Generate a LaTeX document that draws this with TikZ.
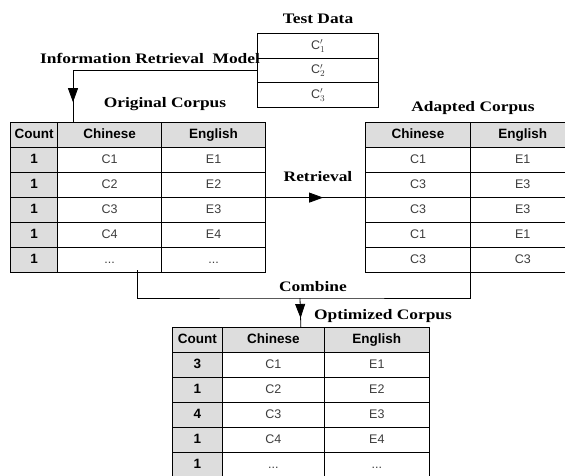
\documentclass[tikz,border=0pt]{standalone}
\usepackage{fontspec}
\setsansfont{Liberation Sans}
\newfontfamily\lblfont[FakeStretch=1.2]{Liberation Serif}
\usetikzlibrary{matrix,arrows.meta,decorations.markings}
\definecolor{cellgray}{RGB}{221,221,221}
\definecolor{celltext}{RGB}{60,60,60}

\begin{document}
\begin{tikzpicture}[x=1pt,y=-1pt,
    cell/.style={draw, line width=0.8pt, minimum height=25pt, inner sep=0pt, anchor=center,
      text height=9pt, text depth=2.5pt, font=\sffamily\fontsize{12.5}{12.5}\selectfont, text=celltext},
    headcell/.style={fill=cellgray, font=\sffamily\bfseries\fontsize{13.5}{13.5}\selectfont, text=black},
    corpus/.style={matrix of nodes, nodes={cell}, column sep=-0.8pt, row sep=-0.8pt,
      inner sep=0pt, anchor=north west, row 1/.style={nodes={headcell}}},
    caption/.style={font=\lblfont\bfseries\fontsize{14.5}{15}\selectfont},
    flow/.style={line width=0.8pt},
    midarrow/.style={postaction=decorate, decoration={markings,
      mark=at position #1 with {\arrow{Triangle[length=14pt,width=10pt]}}}}]
  \useasboundingbox (0,0) rectangle (565,475);

  \matrix (test) [corpus, row 1/.style={}, nodes={minimum width=121pt, minimum height=24.5pt}] at (257,33) {
    C$_1'$ \\
    C$_2'$ \\
    C$_3'$ \\
  };

  \matrix (orig) [corpus, column 1/.style={nodes={headcell, minimum width=47pt}},
    column 2/.style={nodes={minimum width=104pt}}, column 3/.style={nodes={minimum width=104pt}}] at (10,122) {
    Count & Chinese & English \\
    1 & C1 & E1 \\
    1 & C2 & E2 \\
    1 & C3 & E3 \\
    1 & C4 & E4 \\
    1 & ... & ... \\
  };

  \matrix (adapt) [corpus, nodes={minimum width=104.8pt}] at (365,122) {
    Chinese & English \\
    C1 & E1 \\
    C3 & E3 \\
    C3 & E3 \\
    C1 & E1 \\
    C3 & C3 \\
  };

  \matrix (opt) [corpus, column 1/.style={nodes={headcell, minimum width=49.5pt}},
    column 2/.style={nodes={minimum width=102.5pt}}, column 3/.style={nodes={minimum width=104.5pt}}] at (172,327) {
    Count & Chinese & English \\
    3 & C1 & E1 \\
    1 & C2 & E2 \\
    4 & C3 & E3 \\
    1 & C4 & E4 \\
    1 & ... & ... \\
  };

  \node[caption] (testcap) at (318,19) {Test Data};
  \node[caption] (irmcap) at (150,58) {Information Retrieval\ \ Model};
  \node[caption] (origcap) at (165,104) {Original Corpus};
  \node[caption] (adaptcap) at (473,108) {Adapted Corpus};
  \node[caption] (retrcap) at (318,177) {Retrieval};
  \node[caption] (combcap) at (313,287) {Combine};
  \node[caption] (optcap) at (383,316) {Optimized Corpus};

  \coordinate (irin) at (73,122);
  \coordinate (osrc) at (137,270);
  \coordinate (join) at (300,298);

  \draw[flow, midarrow=0.916] (test-2-1.west) -| (irin);
  \draw[flow, midarrow=0.576] (orig.east) -- (adapt.west);
  \draw[flow] (osrc) |- (join) -| (adapt.south);
  \draw[flow, midarrow=0.69] (join) -- (opt.north);
\end{tikzpicture}
\end{document}
